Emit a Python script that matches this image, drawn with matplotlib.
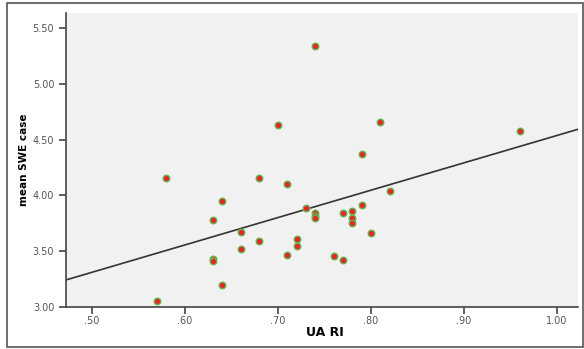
import numpy as np
import matplotlib.pyplot as plt
from matplotlib.patches import Rectangle

ua_ri = [0.57, 0.58, 0.63, 0.63, 0.63, 0.64, 0.64, 0.66, 0.66, 0.68, 0.68,
         0.70, 0.71, 0.71, 0.72, 0.72, 0.73, 0.74, 0.74, 0.74, 0.74, 0.76,
         0.77, 0.77, 0.78, 0.78, 0.78, 0.79, 0.79, 0.80, 0.81, 0.82, 0.96]
swe = [3.05, 4.16, 3.78, 3.43, 3.41, 3.95, 3.20, 3.67, 3.52, 4.16, 3.59,
       4.63, 4.10, 3.47, 3.61, 3.55, 3.89, 5.34, 3.84, 3.82, 3.80, 3.46,
       3.84, 3.42, 3.86, 3.80, 3.75, 4.37, 3.91, 3.66, 4.66, 4.04, 4.58]

x_ticks = [0.5, 0.6, 0.7, 0.8, 0.9, 1.0]
x_labels = ['.50', '.60', '.70', '.80', '.90', '1.00']
y_ticks = [3.0, 3.5, 4.0, 4.5, 5.0, 5.5]
y_labels = ['3.00', '3.50', '4.00', '4.50', '5.00', '5.50']

fig = plt.figure(figsize=(5.84, 3.49), dpi=100)
# outer frame
fig.patches.append(Rectangle((7 / 584, 2 / 349), 576 / 584, 344 / 349,
                             transform=fig.transFigure, fill=False,
                             edgecolor='#555555', linewidth=1.2))

ax = fig.add_axes([66 / 584, 1 - 307 / 349, 512 / 584, 294 / 349])
ax.set_facecolor('#f1f1f1')
xmin, xmax = 0.472, 1.0226
ax.set_xlim(xmin, xmax)
ax.set_ylim(3.0, 5.635)

# fit line
slope, icpt = np.polyfit(ua_ri, swe, 1)
xx = np.array([xmin, xmax])
ax.plot(xx, icpt + slope * xx, color='#333333', linewidth=1.2, zorder=2)

ax.scatter(ua_ri, swe, s=22, facecolor='#e8242a', edgecolor='#66b34a',
           linewidth=1.0, zorder=3)

for s in ['top', 'right']:
    ax.spines[s].set_visible(False)
for s in ['left', 'bottom']:
    ax.spines[s].set_color('#444444')
    ax.spines[s].set_linewidth(1.2)

ax.set_xticks(x_ticks, x_labels)
ax.set_yticks(y_ticks, y_labels)
ax.tick_params(axis='both', labelsize=7, colors='#444444', length=5,
               width=1.2, labelcolor='#555555')
ax.tick_params(axis='x', pad=1.5)

ax.set_xlabel('UA RI', fontsize=9, fontweight='bold', va='center')
ax.xaxis.set_label_coords(0.506, -0.088)
ax.set_ylabel('mean SWE case', fontsize=7.5, fontweight='bold', va='center')
ax.yaxis.set_label_coords(-0.082, 0.5)

fig.savefig('out.png', dpi=100)
